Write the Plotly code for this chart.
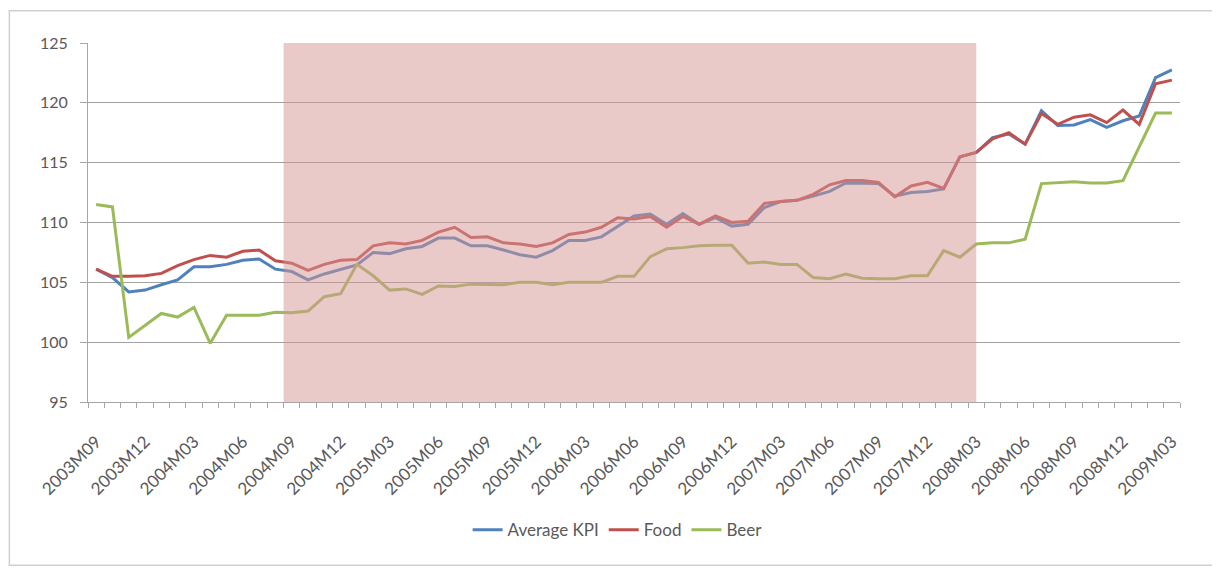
# Indices mensuales: Average KPI, Food y Beer (2003M09 - 2009M03)
import numpy as np
import plotly.graph_objects as go

meses = []
for anio in range(2003, 2010):
    for m in range(1, 13):
        if (anio, m) >= (2003, 9) and (anio, m) <= (2009, 3):
            meses.append(f"{anio}M{m:02d}")

average_kpi = [106.1, 105.4, 104.2, 104.35, 104.8, 105.2, 106.3, 106.3, 106.5, 106.85,
               106.95, 106.1, 105.9, 105.2, 105.7, 106.1, 106.45, 107.5,
               107.4, 107.8, 108.0, 108.7, 108.7, 108.05, 108.05, 107.7, 107.3, 107.1,
               107.65, 108.5, 108.5, 108.8, 109.7, 110.55, 110.7,
               109.85, 110.75, 109.85, 110.4, 109.7, 109.85, 111.25, 111.75, 111.85, 112.2,
               112.6, 113.3, 113.3, 113.25, 112.2, 112.5, 112.6, 112.8,
               115.5, 115.85, 117.1, 117.4, 116.55, 119.35, 118.1, 118.15, 118.6, 117.95,
               118.5, 118.9, 122.1, 122.75]

food = [106.1, 105.5, 105.5, 105.55, 105.75, 106.4, 106.9, 107.25, 107.1, 107.6,
        107.7, 106.8, 106.6, 106.0, 106.5, 106.85, 106.9, 108.05,
        108.3, 108.2, 108.5, 109.2, 109.6, 108.75, 108.8, 108.3, 108.2, 108.0,
        108.3, 109.0, 109.2, 109.6, 110.4, 110.3, 110.5,
        109.6, 110.5, 109.85, 110.55, 110.0, 110.1, 111.6, 111.75, 111.85, 112.35,
        113.15, 113.5, 113.5, 113.35, 112.15, 113.05, 113.35, 112.85,
        115.5, 115.85, 117.0, 117.5, 116.55, 119.1, 118.2, 118.8, 119.0, 118.35,
        119.4, 118.2, 121.6, 121.9]

beer = [111.5, 111.3, 100.4, 101.4, 102.4, 102.1, 102.9, 99.9, 102.25, 102.25,
        102.25, 102.5, 102.45, 102.6, 103.8, 104.05, 106.5, 105.55,
        104.35, 104.45, 104.0, 104.7, 104.65, 104.85, 104.8, 104.8, 105.0, 105.0,
        104.8, 105.0, 105.0, 105.0, 105.5, 105.5, 107.15,
        107.8, 107.9, 108.05, 108.1, 108.1, 106.6, 106.7, 106.5, 106.5, 105.4,
        105.3, 105.7, 105.35, 105.3, 105.3, 105.55, 105.55, 107.65,
        107.1, 108.2, 108.3, 108.3, 108.6, 113.25, 113.35, 113.4, 113.3, 113.3,
        113.5, 116.3, 119.15, 119.15]

# periodo sombreado (desde 2004M09 hasta 2008M03)
inicio_sombra = "2004M09"
fin_sombra = "2008M03"

x = np.arange(len(meses))
gris = "#595959"

fig = go.Figure()

series = [("Average KPI", average_kpi, "#4F81BD"),
          ("Food", food, "#C0504D"),
          ("Beer", beer, "#9BBB59")]
for nombre, valores, color in series:
    fig.add_trace(go.Scatter(x=x, y=valores, mode="lines", name=nombre,
                             line=dict(color=color, width=3)))

# zona sombreada encima de las lineas
fig.add_shape(type="rect", xref="x", yref="y",
              x0=meses.index(inicio_sombra) - 0.5, x1=meses.index(fin_sombra),
              y0=95, y1=125, layer="above",
              fillcolor="rgba(214,150,148,0.5)", line=dict(width=0))

# marco exterior del grafico
fig.add_shape(type="rect", xref="paper", yref="paper",
              x0=-0.072, x1=1.033, y0=-0.455, y1=1.09,
              line=dict(color="#d0d0d0", width=1.5), layer="below")

# la pagina tiene 8px de margen, se compensa en l y t
fig.update_layout(
    width=1220, height=568,
    margin=dict(l=80, r=48, t=35, b=174),
    plot_bgcolor="white", paper_bgcolor="white",
    font=dict(family="Lato", size=16, color=gris),
    showlegend=True,
    legend=dict(orientation="h", x=0.485, xanchor="center", y=-0.357, yanchor="middle",
                font=dict(size=17, color=gris)),
    xaxis=dict(range=[-0.5, len(meses) - 0.5],
               tickmode="array", tickvals=x[::3], ticktext=meses[::3],
               tickangle=-45, ticks="", showgrid=False, zeroline=False,
               showline=True, linecolor="#a6a6a6", linewidth=1,
               ticklabelstandoff=22,
               tickfont=dict(size=17, color=gris),
               minor=dict(tickmode="linear", tick0=-0.5, dtick=1, ticks="outside",
                          ticklen=5, tickcolor="#a6a6a6", showgrid=False)),
    yaxis=dict(range=[95, 125], dtick=5, showgrid=True, gridcolor="#a0a0a0", gridwidth=1,
               zeroline=False, showline=True, linecolor="#a6a6a6", linewidth=1,
               ticks="outside", ticklen=7, tickcolor="#a6a6a6", ticklabelstandoff=9,
               tickfont=dict(size=16, color=gris)),
)

fig.write_html("out.html")
